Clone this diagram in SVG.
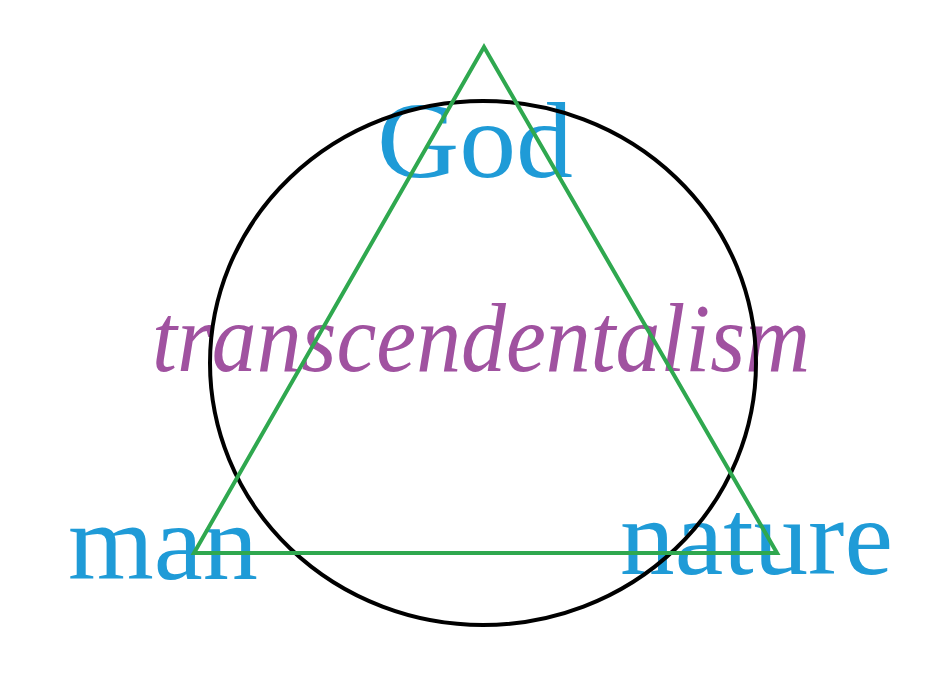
<svg xmlns="http://www.w3.org/2000/svg" width="940" height="688" viewBox="0 0 940 688">
<style>
.lbl{font-family:"Liberation Serif","DejaVu Serif",serif;fill:#1f9bd7}
.big{font-family:"Liberation Serif","DejaVu Serif",serif;font-style:italic;fill:#a052a0}
.circ{fill:none;stroke:#000;stroke-width:4}
.tri{fill:none;stroke:#2fa84f;stroke-width:4;stroke-linejoin:miter}
</style>
<rect width="940" height="688" fill="#fff"/>
<g id="title"><text class="big" x="152" y="371" font-size="98" textLength="658" lengthAdjust="spacingAndGlyphs">transcendentalism</text></g>
<g id="god"><text class="lbl" x="377" y="177" font-size="108" textLength="196" lengthAdjust="spacingAndGlyphs">God</text></g>
<g id="man"><text class="lbl" x="68" y="579" font-size="108" textLength="190" lengthAdjust="spacingAndGlyphs">man</text></g>
<g id="nature"><text class="lbl" x="620" y="574" font-size="108" textLength="273" lengthAdjust="spacingAndGlyphs">nature</text></g>
<g id="connectors">
<ellipse class="circ" cx="483" cy="363" rx="273" ry="262"/>
<polygon class="tri" points="484,47 194,553 777,553"/>
</g>
</svg>
